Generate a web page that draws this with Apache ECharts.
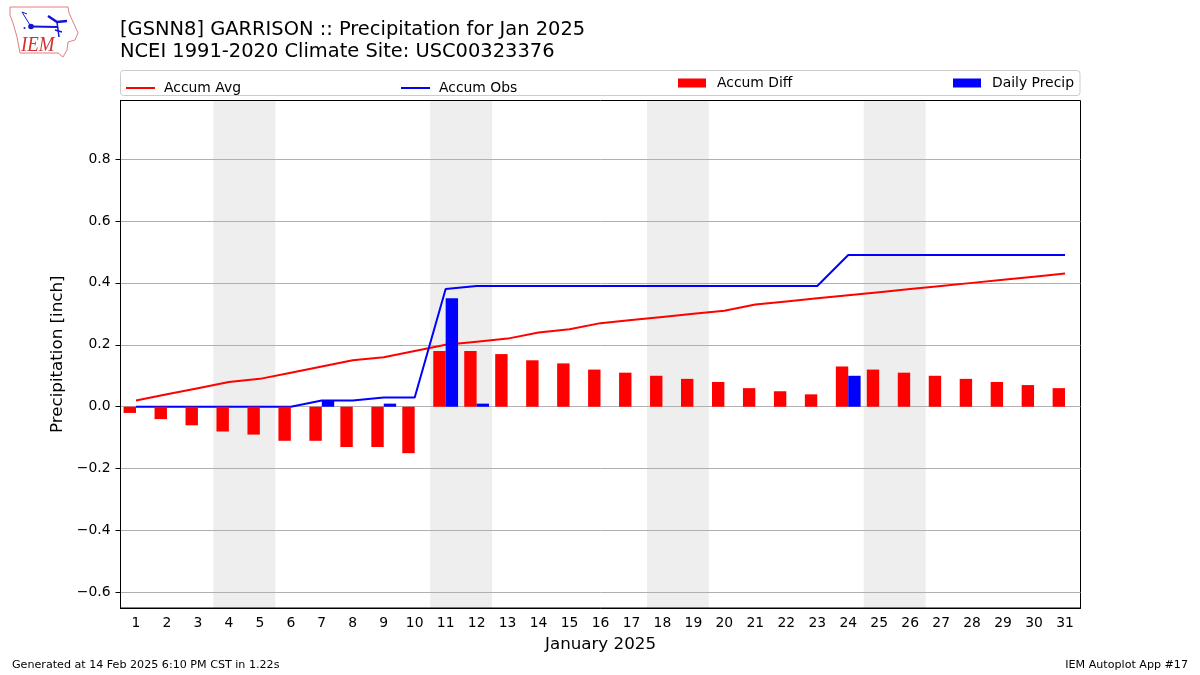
<!DOCTYPE html>
<html><head><meta charset="utf-8">
<style>html,body{margin:0;padding:0;background:#fff}#c{width:1200px;height:675px}</style>
<script src="https://cdn.jsdelivr.net/npm/echarts@6/dist/echarts.min.js"></script>
</head><body><div id="c"></div>
<script>
const days = ['1','2','3','4','5','6','7','8','9','10','11','12','13','14','15','16','17','18','19','20','21','22','23','24','25','26','27','28','29','30','31'];
const accumAvg = [.02,.04,.06,.08,.09,.11,.13,.15,.16,.18,.20,.21,.22,.24,.25,.27,.28,.29,.30,.31,.33,.34,.35,.36,.37,.38,.39,.40,.41,.42,.43];
const accumObs = [0,0,0,0,0,0,.02,.02,.03,.03,.38,.39,.39,.39,.39,.39,.39,.39,.39,.39,.39,.39,.39,.49,.49,.49,.49,.49,.49,.49,.49];
const accumDiff = [-.02,-.04,-.06,-.08,-.09,-.11,-.11,-.13,-.13,-.15,.18,.18,.17,.15,.14,.12,.11,.10,.09,.08,.06,.05,.04,.13,.12,.11,.10,.09,.08,.07,.06];
const dailyPrecip = [0,0,0,0,0,0,.02,0,.01,0,.35,.01,0,0,0,0,0,0,0,0,0,0,0,.10,0,0,0,0,0,0,0];
const yTicks = [-0.6,-0.4,-0.2,0,0.2,0.4,0.6,0.8];
const weekends = [[3.5,5.5],[10.5,12.5],[17.5,19.5],[24.5,26.5]];
const titleText = '[GSNN8] GARRISON :: Precipitation for Jan 2025\nNCEI 1991-2020 Climate Site: USC00323376';
const footLeft = 'Generated at 14 Feb 2025 6:10 PM CST in 1.22s';
const footRight = 'IEM Autoplot App #17';
const F = '"DejaVu Sans"';

const chart = echarts.init(document.getElementById('c'));
const legendAt = (name, left, isBar) => ({
  show:true, data:[{name,icon:'rect'}], left, top:isBar?76:81, padding:0, itemWidth:isBar?28:29, itemHeight:isBar?9:2,
  textStyle:{fontFamily:F,fontSize:13.9,color:'#000',padding:isBar?[0,0,0,6]:[0,0,0,4],lineHeight:isBar?11:2},
  selectedMode:false
});
const logoStroke = (points,lineWidth) => ({type:'polyline',shape:{points},style:{stroke:'#1414d2',lineWidth,fill:'none'}});
chart.setOption({
  animation:false,
  backgroundColor:'#fff',
  textStyle:{fontFamily:F},
  title:{text:titleText,left:120,top:19,padding:0,textStyle:{fontFamily:F,fontSize:19.45,fontWeight:'normal',color:'#000',lineHeight:22}},
  legend:[legendAt('Accum Avg',126,false),legendAt('Accum Obs',401,false),legendAt('Accum Diff',678,true),legendAt('Daily Precip',953,true)],
  grid:{left:120.5,right:119.5,top:100.5,bottom:67,show:true,borderColor:'#000',borderWidth:1,backgroundColor:'transparent'},
  xAxis:[
   {type:'category',data:days,boundaryGap:true,name:'January 2025',nameLocation:'middle',nameGap:28,
    nameTextStyle:{fontFamily:F,fontSize:16.7,color:'#000'},
    axisLine:{onZero:false,lineStyle:{color:'#000',width:1}},axisTick:{alignWithLabel:true,length:5,lineStyle:{color:'#000'}},
    axisLabel:{interval:0,color:'#000',fontFamily:F,fontSize:13.9,margin:8},splitLine:{show:false}},
   {type:'value',min:0.5,max:31.5,show:false}
  ],
  yAxis:{type:'value',min:-0.65,max:0.989,name:'Precipitation [inch]',nameLocation:'middle',nameGap:50,
    nameTextStyle:{fontFamily:F,fontSize:16.7,color:'#000'},
    axisLine:{show:true,onZero:false,lineStyle:{color:'#000',width:1}},
    axisTick:{show:true,length:5,customValues:yTicks,lineStyle:{color:'#000'}},
    axisLabel:{customValues:yTicks,color:'#000',fontFamily:F,fontSize:13.9,margin:10,padding:[2,0,0,0],
      formatter:v=>{const s=Math.abs(v).toFixed(1);return v<0?'\u2212'+s:s;}},
    splitLine:{show:true,lineStyle:{color:'#b0b0b0',width:1}}},
  series:[
   {name:'Weekend',type:'line',xAxisIndex:1,data:[],z:-1,silent:true,
    markArea:{silent:true,z:-1,itemStyle:{color:'#eeeeee'},data:weekends.map(w=>[{xAxis:w[0]},{xAxis:w[1]}])}},
   {name:'Accum Avg',type:'line',data:accumAvg,symbol:'none',z:3,lineStyle:{color:'#ff0000',width:2},itemStyle:{color:'#ff0000'}},
   {name:'Accum Obs',type:'line',data:accumObs,symbol:'none',z:4,lineStyle:{color:'#0000ff',width:2},itemStyle:{color:'#0000ff'}},
   {name:'Accum Diff',type:'bar',data:accumDiff,barWidth:12.4,barGap:0,z:5,itemStyle:{color:'#ff0000'}},
   {name:'Daily Precip',type:'bar',data:dailyPrecip,barWidth:12.4,barGap:0,z:5,itemStyle:{color:'#0000ff'}}
  ],
  graphic:[
   {type:'rect',shape:{x:120.5,y:70.5,width:959.5,height:25,r:3},style:{fill:'transparent',stroke:'#cccccc',lineWidth:1},z:-5},
   {type:'text',left:12,top:660,style:{text:footLeft,fontFamily:F,fontSize:11.11,fill:'#000'}},
   {type:'text',right:12,top:660,style:{text:footRight,fontFamily:F,fontSize:11.11,fill:'#000'}},
   {type:'polygon',shape:{points:[[10,7],[68,7],[69,13],[74,24],[78,33],[75,40],[68,42],[67,50],[63,57],[58,53],[20,53],[17,37],[13,23],[10,15]]},style:{fill:'#fff',stroke:'#e08080',lineWidth:1}},
   {type:'text',x:21,y:35,scaleX:0.9,style:{text:'IEM',fontFamily:'"Liberation Serif"',fontStyle:'italic',fontSize:21,fill:'#d03030'}},
   logoStroke([[31,26.5],[58,27]],2),
   logoStroke([[48,16],[57,22],[67,21]],2.5),
   logoStroke([[57,22],[59,37]],1.5),
   logoStroke([[55,30],[62,32]],1.5),
   logoStroke([[30,25],[22,12]],1),
   logoStroke([[22,12],[27,14]],1),
   {type:'circle',shape:{cx:31,cy:26.5,r:2.8},style:{fill:'#1414d2'}},
   {type:'circle',shape:{cx:24.5,cy:28,r:1},style:{fill:'#1414d2'}}
  ]
});
</script></body></html>
